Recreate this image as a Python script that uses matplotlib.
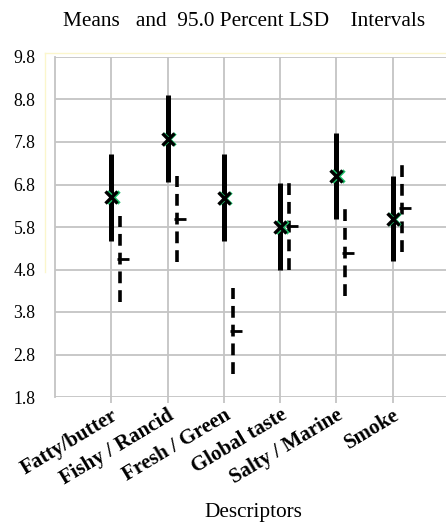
import matplotlib
matplotlib.use("Agg")
import matplotlib.pyplot as plt
import matplotlib.transforms as mtransforms
from matplotlib.lines import Line2D

# Descriptor means with 95% LSD half-widths, two products per descriptor
descriptors = ["Fatty/butter", "Fishy / Rancid", "Fresh / Green",
               "Global taste", "Salty / Marine", "Smoke"]
means_a = [6.50, 7.88, 6.49, 5.81, 7.00, 6.00]
half_a = [1.02, 1.03, 1.03, 1.02, 1.02, 1.00]
means_b = [5.05, 5.98, 3.35, 5.82, 5.20, 6.25]
half_b = [1.02, 1.01, 1.01, 1.02, 1.02, 1.03]
yticks = [1.8, 2.8, 3.8, 4.8, 5.8, 6.8, 7.8, 8.8, 9.8]

plt.rcParams["lines.scale_dashes"] = False
serif = ["Liberation Serif", "DejaVu Serif"]

fig = plt.figure(figsize=(4.46, 5.25), dpi=100)
ax = fig.add_axes([55 / 446, 1 - 397 / 525, 1 - 55 / 446, (397 - 57) / 525])

x = list(range(1, len(descriptors) + 1))
grid_c = "#c4c4c4"
for v in yticks:
    ax.axhline(v, color=grid_c, lw=1.3, zorder=0)
for xi in x:
    ax.axvline(xi, color=grid_c, lw=1.3, zorder=0)

ax.set_xlim(0, 6.95)
ax.set_ylim(1.8, 9.8)

# solid intervals with X markers
for xi, m, h in zip(x, means_a, half_a):
    ax.plot([xi, xi], [m - h, m + h], color="black", lw=3.6,
            solid_capstyle="butt", zorder=3)
green_off = mtransforms.offset_copy(ax.transData, fig=fig, x=1.5, y=0, units="dots")
ax.plot(x, means_a, ls="none", marker="x", ms=8, mew=2.4, color="#1fbf6a",
        transform=green_off, zorder=4)
ax.plot(x, means_a, ls="none", marker="x", ms=8, mew=2.4, color="black", zorder=5)

# dashed intervals with T markers, shifted right of each category
dx = 0.16
xb = [xi + dx for xi in x]
for xi, m, h in zip(xb, means_b, half_b):
    ax.plot([xi, xi], [m - h, m + h], color="black", lw=2.6,
            linestyle=(0, (8.5, 5.0)), dash_capstyle="butt", zorder=3)
t_off = mtransforms.offset_copy(ax.transData, fig=fig, x=3, y=0, units="dots")
ax.plot(xb, means_b, ls="none", marker="_", ms=8, mew=2.0, color="black",
        transform=t_off, zorder=5)

ax.set_yticks(yticks)
ax.set_yticklabels([f"{v:.1f}" for v in yticks], family=serif, fontsize=12.7)
ax.set_xticks(x)
ax.set_xticklabels(descriptors, family=serif, fontsize=15, fontweight="bold",
                   rotation=31, ha="right", va="top", rotation_mode="anchor")
ax.tick_params(axis="y", length=0, pad=14)
ax.tick_params(axis="x", length=4, width=1.3, color=grid_c, pad=2)

for side in ["top", "right", "bottom"]:
    ax.spines[side].set_visible(False)
ax.spines["left"].set_color(grid_c)
ax.spines["left"].set_linewidth(1.3)

fig.text(63 / 446, 1 - 22 / 525, "Means   and  95.0 Percent LSD    Intervals",
         ha="left", va="center", family=serif, fontsize=15.3)
fig.text(253 / 446, 1 - 513 / 525, "Descriptors", ha="center", va="center",
         family=serif, fontsize=15.3)

# pale frame at the upper left of the plot area
fig.add_artist(Line2D([45 / 446, 1], [1 - 53 / 525, 1 - 53 / 525],
                      color="#fbf6cc", lw=1, transform=fig.transFigure))
fig.add_artist(Line2D([45 / 446, 45 / 446], [1 - 53 / 525, 1 - 272 / 525],
                      color="#fbf6cc", lw=1, transform=fig.transFigure))

fig.savefig("out.png", dpi=100)
